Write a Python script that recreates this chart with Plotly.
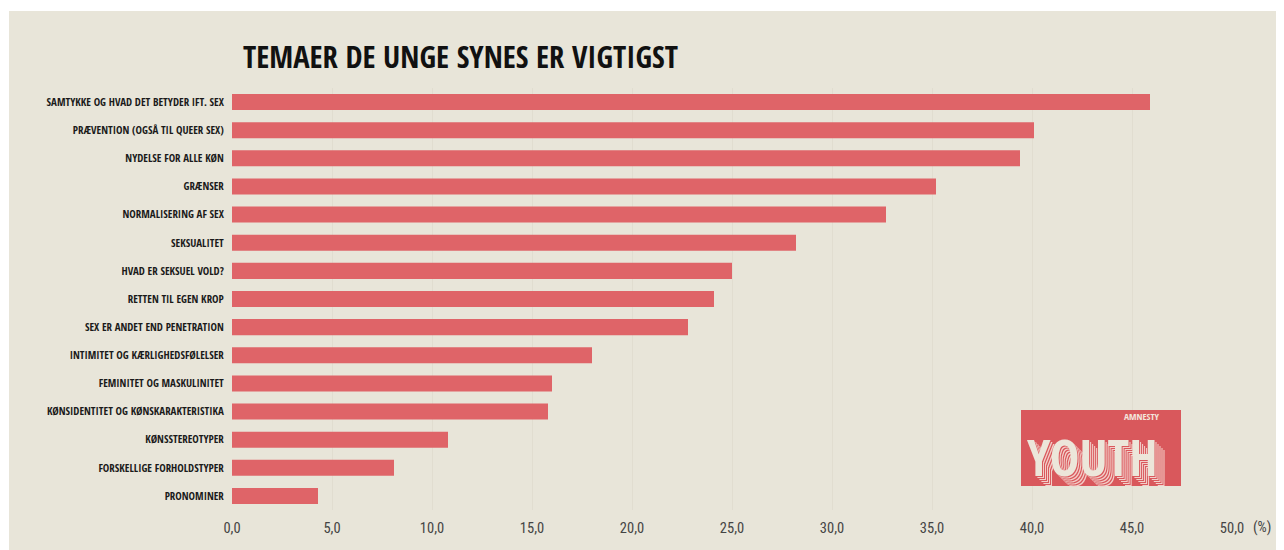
import plotly.graph_objects as go

categories = [
    "SAMTYKKE OG HVAD DET BETYDER IFT. SEX",
    "PRÆVENTION (OGSÅ TIL QUEER SEX)",
    "NYDELSE FOR ALLE KØN",
    "GRÆNSER",
    "NORMALISERING AF SEX",
    "SEKSUALITET",
    "HVAD ER SEKSUEL VOLD?",
    "RETTEN TIL EGEN KROP",
    "SEX ER ANDET END PENETRATION",
    "INTIMITET OG KÆRLIGHEDSFØLELSER",
    "FEMINITET OG MASKULINITET",
    "KØNSIDENTITET OG KØNSKARAKTERISTIKA",
    "KØNSSTEREOTYPER",
    "FORSKELLIGE FORHOLDSTYPER",
    "PRONOMINER",
]
values = [45.9, 40.1, 39.4, 35.2, 32.7, 28.2, 25.0, 24.1, 22.8, 18.0, 16.0, 15.8, 10.8, 8.1, 4.3]
x_ticks = [0, 5, 10, 15, 20, 25, 30, 35, 40, 45, 50]

title_text = "TEMAER DE UNGE SYNES ER VIGTIGST"
unit_text = "(%)"

BEIGE = "#e8e5d9"
BAR = "#df6468"
LOGO = "#d9585c"
COND = "Open Sans Condensed, Liberation Sans, Arial, sans-serif"
TICK_FONT = "Roboto Condensed, Liberation Sans, Arial, sans-serif"

# page is drawn with an 8px body margin; figure sized to fill the window
OFF = 8
W, H = 1284 - OFF, 550 - OFF
PL, PR, PT, PB = 232, 1232, 88, 510          # plot area in window pixels
L, T = PL - OFF, PT - OFF
R, B = W - (PR - OFF), H - (PB - OFF)

fig = go.Figure(go.Bar(
    x=values, y=categories, orientation="h",
    marker=dict(color=BAR, line=dict(width=0)),
    hoverinfo="x+y",
))

fig.update_layout(
    width=W, height=H,
    margin=dict(l=L, r=R, t=T, b=B, pad=0),
    paper_bgcolor=BEIGE, plot_bgcolor=BEIGE,
    bargap=0.43,
    showlegend=False,
    separators=",.",
    title=dict(
        text="<b>" + title_text + "</b>",
        font=dict(family=COND, size=30.6, color="#111111"),
        x=(243 - PL) / (PR - PL), xref="paper", xanchor="left",
        y=1 - (57 - OFF) / H, yref="container", yanchor="middle",
    ),
    xaxis=dict(
        range=[0, 50], tickvals=x_ticks, tickformat=".1f",
        showgrid=True, gridcolor="#e1ddd0", gridwidth=1,
        zeroline=False, showline=False,
        ticks="outside", ticklen=5, tickcolor="rgba(0,0,0,0)",
        tickfont=dict(family=TICK_FONT, size=14.5, color="#444444"),
        fixedrange=True,
    ),
    yaxis=dict(
        categoryorder="array", categoryarray=categories,
        autorange="reversed",
        showgrid=False, zeroline=False, showline=False,
        ticks="outside", ticklen=5, tickcolor="rgba(0,0,0,0)",
        tickfont=dict(family=COND, size=10.9, color="#1a1a1a", weight="bold"),
        fixedrange=True,
    ),
)

px = lambda p: (p - PL) / (PR - PL)
py = lambda p: (PB - p) / (PB - PT)

# thin white strips at top and left of the beige panel
fig.add_shape(type="rect", xref="paper", yref="paper",
              x0=px(OFF), x1=px(1284), y0=py(11), y1=py(OFF),
              fillcolor="white", line=dict(width=0), layer="below")
fig.add_shape(type="rect", xref="paper", yref="paper",
              x0=px(OFF), x1=px(9), y0=py(550), y1=py(OFF),
              fillcolor="white", line=dict(width=0), layer="below")

# unit label
fig.add_annotation(text=unit_text, xref="paper", yref="paper",
                   x=px(1262), y=py(527), xanchor="center", yanchor="middle",
                   showarrow=False, font=dict(family=TICK_FONT, size=14.5, color="#444444"))

# logo
fig.add_shape(type="rect", xref="paper", yref="paper",
              x0=px(1021), x1=px(1181), y0=py(486), y1=py(410),
              fillcolor=LOGO, line=dict(width=0), layer="above")
shadow = ", ".join(
    f"{i}px {i}px 0 {'#f3cfc9' if i % 2 == 0 else LOGO}" for i in range(1, 11)
)
fig.add_annotation(text="<b>YOUTH</b>", xref="paper", yref="paper",
                   x=px(1092), y=py(457), xanchor="center", yanchor="middle",
                   showarrow=False,
                   font=dict(family=COND, size=50, color="#ece6da", shadow=shadow))
fig.add_annotation(text="<b>AMNESTY</b>", xref="paper", yref="paper",
                   x=px(1142), y=py(416), xanchor="center", yanchor="middle",
                   showarrow=False,
                   font=dict(family=COND, size=9.5, color="#f3e6dc"))

fig.write_html("out.html")
